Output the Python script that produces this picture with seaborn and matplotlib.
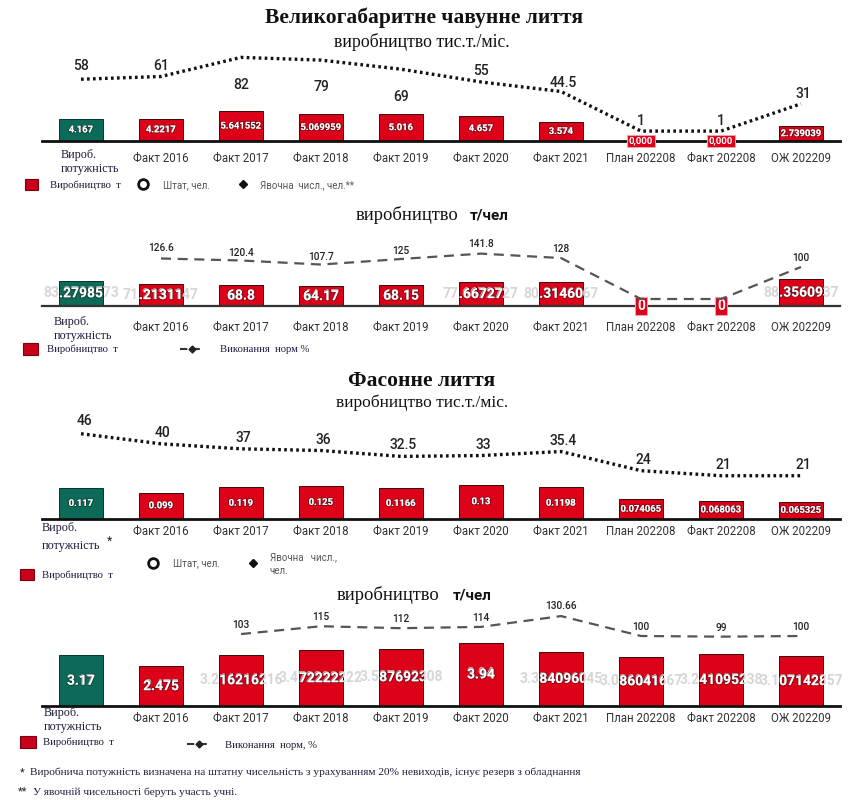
import matplotlib
matplotlib.use("Agg")
import matplotlib.pyplot as plt
import matplotlib.patheffects as pe
from matplotlib.patches import Rectangle
import seaborn as sns
import pandas as pd

sns.set_theme(style="white")
plt.rcParams['font.family'] = ['Roboto', 'DejaVu Sans']

# ---------------- data ----------------
categories = ["Вироб.\nпотужність", "Факт 2016", "Факт 2017", "Факт 2018", "Факт 2019",
              "Факт 2020", "Факт 2021", "План 202208", "Факт 202208", "ОЖ 202209"]

big_prod = [4.167, 4.2217, 5.641552, 5.069959, 5.016, 4.657, 3.574, 0.0, 0.0, 2.739039]
big_staff = [58, 61, 82, 79, 69, 55, 44.5, 1, 1, 31]
big_per_person = [83.2798573, 71.2131147, 68.8, 64.17, 68.15, 77.6672727, 80.3146067, 0, 0, 88.3560937]
big_norm = [None, 126.6, 120.4, 107.7, 125, 141.8, 128, 0, 0, 100]

shaped_prod = [0.117, 0.099, 0.119, 0.125, 0.1166, 0.13, 0.1198, 0.074065, 0.068063, 0.065325]
shaped_staff = [46, 40, 37, 36, 32.5, 33, 35.4, 24, 21, 21]
shaped_per_person = [3.17, 2.475, 3.216216216, 3.472222222, 3.587692308, 3.94,
                     3.384096045, 3.086041667, 3.241095238, 3.107142857]
shaped_norm = [None, None, 103, 115, 112, 114, 130.66, 100, 99, 100]

title_big = "Великогабаритне чавунне лиття"
title_shaped = "Фасонне лиття"
sub_month = "виробництво тис.т./міс."
sub_pp = "виробництво"
sub_pp_unit = "т/чел"
legend_prod = "Виробництво  т"
legend_staff = "Штат, чел."
legend_present = "Явочна  числ., чел.**"
legend_present2 = "Явочна   числ.,\nчел."
legend_norm = "Виконання  норм %"
legend_norm2 = "Виконання  норм, %"
note1 = "Виробнича потужність визначена на штатну чисельність з урахуванням 20% невиходів, існує резерв з обладнання"
note2 = "У явочній чисельності беруть участь учні."

# ---------------- style ----------------
W, H = 849, 800
GREEN = "#0c6a58"
RED = "#dc0019"
SERIF = "Liberation Serif"
TXT = "#222222"

fig = plt.figure(figsize=(W / 100, H / 100), dpi=100)
fig.patch.set_facecolor("white")


def rect(x0, y0, x1, y1):
    return [x0 / W, 1 - y1 / H, (x1 - x0) / W, (y1 - y0) / H]


def fmt(v):
    return str(v)


def panel(ypx, bar_vals, line_vals, bar_px_per_unit, line_zero_px, line_px_per_unit,
          line_kw, bar_fs, zero_text, zero_fs, line_fs, offsets, tick_pad, spine_lw, spine_col):
    y0, y1 = ypx
    hpx = y1 - y0
    ax = fig.add_axes(rect(42, y0, 840, y1))
    df = pd.DataFrame({"cat": categories, "val": bar_vals})
    pal = [GREEN] + [RED] * (len(categories) - 1)
    sns.barplot(data=df, x="cat", y="val", hue="cat", palette=pal, legend=False,
                width=0.55, saturation=1, ax=ax, edgecolor="#3a0a0a", linewidth=0.7)
    ax.set_ylim(0, hpx / bar_px_per_unit)
    ax.set_xlim((42 - 81) / 80, (840 - 81) / 80)
    ax.set_xlabel("")
    ax.set_ylabel("")
    ax.set_yticks([])
    ax.set_xticks(range(len(categories)))
    ax.set_xticklabels([""] + categories[1:], fontsize=8.3, color="#333333")
    ax.tick_params(axis="x", length=0, pad=tick_pad)
    for s in ["top", "left", "right"]:
        ax.spines[s].set_visible(False)
    ax.spines["bottom"].set_linewidth(spine_lw)
    ax.spines["bottom"].set_color(spine_col)
    ax.patch.set_alpha(0)
    for p in ax.patches:
        i = int(round(p.get_x() + p.get_width() / 2))
        if i == 0:
            p.set_edgecolor("#07332a")
        v = bar_vals[i]
        cx = p.get_x() + p.get_width() / 2
        if v == 0:
            ax.text(cx, 0, zero_text, ha="center", va="center", color="white",
                    fontsize=zero_fs, fontweight="bold", zorder=6, clip_on=False,
                    bbox=dict(boxstyle="square,pad=0.15", fc=RED, ec="#f0a0a8", lw=0.8))
            continue
        s = fmt(v)
        ax.text(cx, v / 2, s, ha="center", va="center", color="#d6d6d6",
                fontsize=bar_fs, fontweight="bold", zorder=4, clip_on=False)
        t = ax.text(cx, v / 2, s, ha="center", va="center", color="white",
                    fontsize=bar_fs, fontweight="bold", zorder=5, clip_on=True,
                    path_effects=[pe.withStroke(linewidth=1.3, foreground="#00000060")])
        t.set_clip_path(p)
    ax2 = ax.twinx()
    lo = -line_zero_px / line_px_per_unit
    hi = (hpx - line_zero_px) / line_px_per_unit
    ldf = pd.DataFrame({"pos": range(len(categories)), "val": line_vals}).dropna()
    sns.lineplot(data=ldf, x="pos", y="val", ax=ax2, errorbar=None, **line_kw)
    ax2.set_ylim(lo, hi)
    ax2.set_xlim((42 - 81) / 80, (840 - 81) / 80)
    ax2.set_yticks([])
    ax2.set_xlabel("")
    ax2.set_ylabel("")
    for s in ax2.spines.values():
        s.set_visible(False)
    for i, v in enumerate(line_vals):
        if v is None:
            continue
        dx, dy, show = offsets[i]
        if not show:
            continue
        ax2.annotate(fmt(v), (i, v), xytext=(dx, dy), textcoords="offset pixels",
                     ha="center", va="center", fontsize=line_fs, color=TXT,
                     fontweight="medium", annotation_clip=False)
    return ax


dotted = dict(color="#111111", linewidth=2.4, linestyle=(0, (0.8, 1.0)))
dashed = dict(color="#555555", linewidth=1.6, linestyle=(0, (4.5, 3)))

# Panel 1
off1 = [(0, 13, 1), (0, 10, 1), (0, -28, 1), (0, -27, 1), (0, -28, 1),
        (0, 11, 1), (2, 9, 1), (0, 10, 1), (0, 10, 1), (2, 10, 1)]
panel((45, 141), big_prod, big_staff, 5.3, 9, 0.91, dotted, 6.8, "0,000", 6.8, 10, off1, 8, 2.0, "#111111")

# Panel 2
off2 = [(0, 0, 0), (0, 10, 1), (0, 7, 1), (0, 8, 1), (0, 8, 1),
        (0, 10, 1), (0, 9, 1), (0, 0, 0), (0, 0, 0), (0, 9, 1)]
panel((232, 306), big_per_person, big_norm, 0.305, 7, 0.32, dashed, 10, "0", 10, 7.3, off2, 10.5, 1.6, "#333333")

# Panel 3
off3 = [(4, 13, 1)] + [(2, 11, 1)] * 9
panel((412, 519), shaped_prod, shaped_staff, 265, 8, 1.68, dotted, 6.8, "0", 6.8, 10, off3, 4.5, 2.0, "#111111")

# Panel 4
off4 = [(0, 9, 1)] * 6 + [(0, 10, 1)] + [(0, 9, 1)] * 3
panel((600, 706), shaped_per_person, shaped_norm, 16, 5, 0.65, dashed, 10, "0", 10, 7.3, off4, 4.5, 2.0, "#111111")

# ---------------- overlay texts & legends ----------------
ov = fig.add_axes([0, 0, 1, 1], zorder=20)
ov.set_xlim(0, W)
ov.set_ylim(H, 0)
ov.axis("off")
ov.patch.set_alpha(0)

NAVY = "#1c1c3c"
ov.text(424, 18, title_big, ha="center", va="center", fontsize=15.5, fontweight="bold", family=SERIF, color="#111111")
ov.text(422, 42, sub_month, ha="center", va="center", fontsize=12.8, family=SERIF, color="#111111")
ov.text(458, 215, sub_pp, ha="right", va="center", fontsize=13.3, family=SERIF, color="#111111")
ov.text(470, 215, sub_pp_unit, ha="left", va="center", fontsize=11, fontweight="bold", color="#111111")
ov.text(422, 381, title_shaped, ha="center", va="center", fontsize=15.5, fontweight="bold", family=SERIF, color="#111111")
ov.text(422, 403, sub_month, ha="center", va="center", fontsize=12.5, family=SERIF, color="#111111")
ov.text(439, 595, sub_pp, ha="right", va="center", fontsize=13.3, family=SERIF, color="#111111")
ov.text(453, 595, sub_pp_unit, ha="left", va="center", fontsize=11, fontweight="bold", color="#111111")

for x, y, ls in [(61, 162, 1.25), (54, 329, 1.3), (42, 537, 1.75), (44, 720, 1.3)]:
    ov.text(x, y, categories[0], ha="left", va="center", fontsize=8.7, family=SERIF,
            color=NAVY, linespacing=ls)
ov.text(110, 541, "*", ha="center", va="center", fontsize=9, color=TXT)


def red_square(x0, y0, x1, y1):
    ov.add_patch(Rectangle((x0, y0), x1 - x0, y1 - y0, fc="#c8001a", ec="#7a0010", lw=0.8))


red_square(25, 179, 38, 190)
ov.text(50, 185, legend_prod, ha="left", va="center", fontsize=7.7, family=SERIF, color=NAVY)
ov.plot([143], [184], marker="o", ms=7, mfc="white", mec="#111111", mew=2.0)
ov.text(163, 185, legend_staff, ha="left", va="center", fontsize=7, color="#555555")
ov.plot([243], [184], marker="D", ms=4, mfc="#111111", mec="#111111")
ov.text(260, 185, legend_present, ha="left", va="center", fontsize=7, color="#555555")

red_square(23, 343, 38, 355)
ov.text(47, 349, legend_prod, ha="left", va="center", fontsize=7.7, family=SERIF, color=NAVY)
ov.plot([180, 205], [349, 349], color="#333333", lw=1.5, linestyle=(0, (3.5, 2.5)))
ov.plot([192.5], [349], marker="D", ms=3.5, color="#222222")
ov.text(220, 349, legend_norm, ha="left", va="center", fontsize=7.7, family=SERIF, color=NAVY)

ov.plot([153], [563], marker="o", ms=7, mfc="white", mec="#111111", mew=2.0)
ov.text(173, 563, legend_staff, ha="left", va="center", fontsize=7, color="#555555")
ov.plot([253], [563], marker="D", ms=4, mfc="#111111", mec="#111111")
ov.text(270, 564, legend_present2, ha="left", va="center", fontsize=7, color="#555555", linespacing=1.5)
red_square(20, 569, 34, 580)
ov.text(42, 575, legend_prod, ha="left", va="center", fontsize=7.7, family=SERIF, color=NAVY)

red_square(20, 736, 36, 748)
ov.text(43, 742, legend_prod, ha="left", va="center", fontsize=7.7, family=SERIF, color=NAVY)
ov.plot([187, 211], [744, 744], color="#333333", lw=1.5, linestyle=(0, (3.5, 2.5)))
ov.plot([199], [744], marker="D", ms=3.5, color="#222222")
ov.text(225, 745, legend_norm2, ha="left", va="center", fontsize=7.7, family=SERIF, color=NAVY)

ov.text(20, 772, "*", ha="left", va="center", fontsize=8, color=TXT)
ov.text(30, 772, note1, ha="left", va="center", fontsize=8.2, family=SERIF, color=NAVY)
ov.text(18, 791, "**", ha="left", va="center", fontsize=8, color=TXT)
ov.text(33, 792, note2, ha="left", va="center", fontsize=8.2, family=SERIF, color=NAVY)

fig.savefig("out.png", dpi=100, facecolor="white")
